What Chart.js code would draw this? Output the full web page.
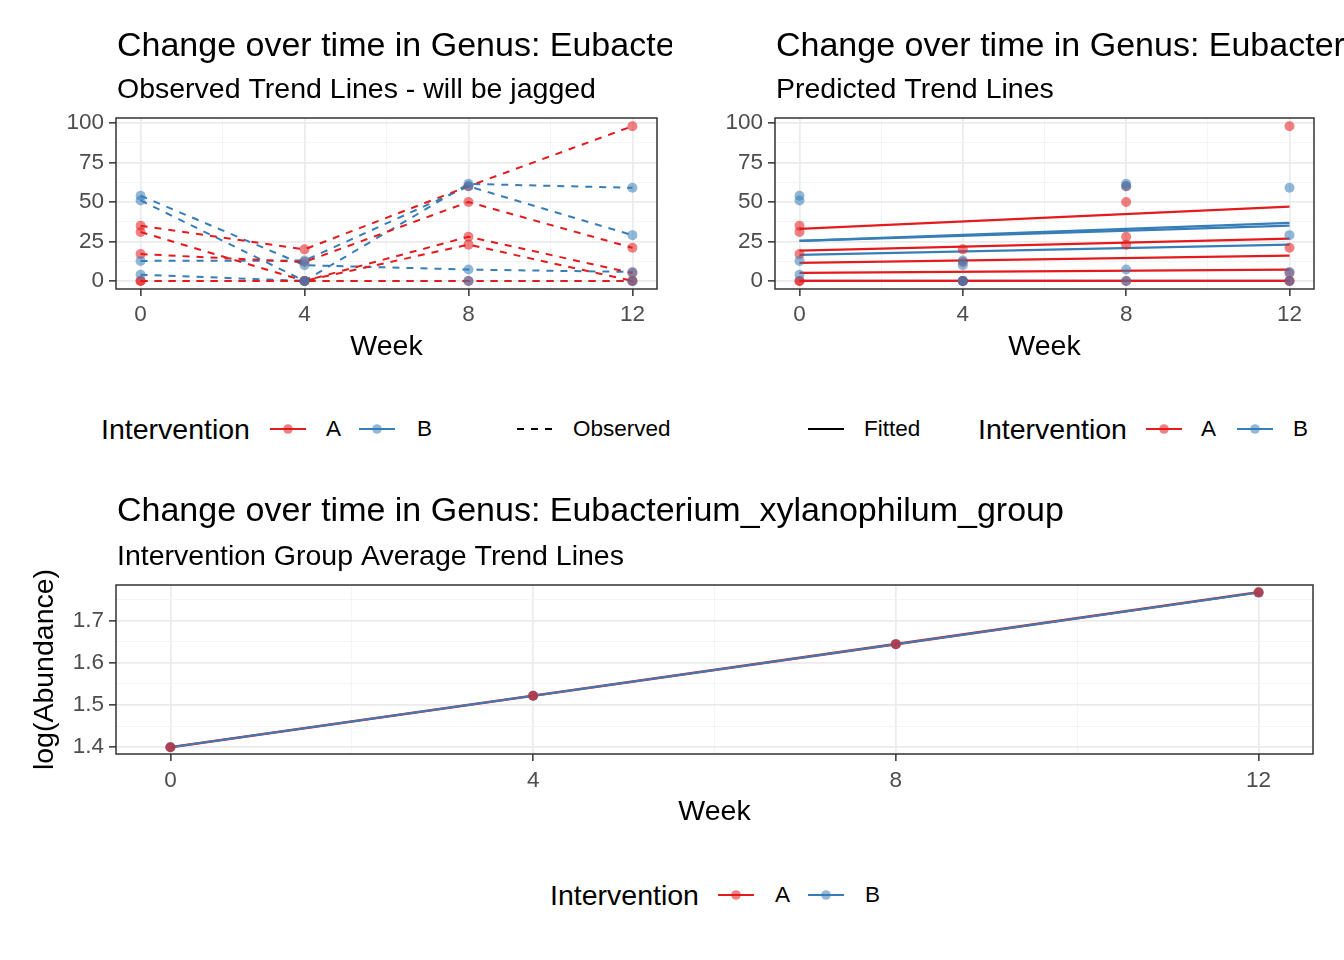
<!DOCTYPE html>
<html>
<head>
<meta charset="utf-8">
<title>Change over time in Genus: Eubacterium_xylanophilum_group</title>
<script src="https://cdn.jsdelivr.net/npm/chart.js@4.4.1/dist/chart.umd.min.js"></script>
<style>
  html, body { margin: 0; padding: 0; background: #fff; }
  #page { position: relative; width: 1344px; height: 960px; overflow: hidden; font-family: "Liberation Sans", Arial, sans-serif; }
  canvas { position: absolute; }
  .lg { position: absolute; white-space: nowrap; transform: translateY(-50%); color: #000; line-height: 1; }
  .big { font-size: 28.5px; }
  .small { font-size: 22.5px; }
  .key { position: absolute; transform: translateY(-50%); }
</style>
</head>
<body>
<div id="page">
  <canvas id="observed" width="672" height="365" style="left:0;top:0"></canvas>
  <canvas id="predicted" width="672" height="365" style="left:672px;top:0"></canvas>
  <canvas id="average" width="1344" height="361" style="left:0;top:470px"></canvas>
  <div id="legends"></div>
</div>
<script>
// x positions (weeks) and tick labels
const weeks = [0, 4, 8, 12];
const weekTicks = [0, 4, 8, 12];
const abundanceTicks = [0, 25, 50, 75, 100];
const logTicks = [1.4, 1.5, 1.6, 1.7];

// observed abundance per subject at weeks 0, 4, 8, 12
const observedA = [
    [35, 20, 60, 98],
    [31, 0, 28, 5],
    [17, 12, 50, 21],
    [0, 0, 23, 0],
    [0, 0, 0, 0]
];
const observedB = [
    [54, 10, 7.2, 5.7],
    [51, 0, 61.5, 59],
    [12.7, 12.9, 60, 29],
    [4, 0, 0, 0]
];

// fitted lines per subject: value at week 0 and at week 12
const fittedStartA = [33.0, 19.2, 11.4, 5.1, 0];
const fittedEndA = [47.1, 26.8, 16.1, 7.2, 0];
const fittedStartB = [25.4, 25.4, 16.5, 0];
const fittedEndB = [36.8, 35.1, 23.0, 0];

// group average log(abundance)
const averageA = [1.400, 1.522, 1.644, 1.767];
const averageB = [1.400, 1.522, 1.644, 1.766];

const RED = '#E41A1C';
const BLUE = '#377EB8';
const RED_PT = 'rgba(228, 26, 28, 0.55)';
const BLUE_PT = 'rgba(55, 126, 184, 0.55)';
const FONT = '"Liberation Sans", Arial, sans-serif';

const panelDecor = {
    id: 'panelDecor',
    afterDraw(chart, args, opts) {
        const ctx = chart.ctx;
        const a = chart.chartArea;
        ctx.save();
        ctx.strokeStyle = '#333333';
        ctx.lineWidth = 1.5;
        ctx.strokeRect(a.left, a.top, a.right - a.left, a.bottom - a.top);
        ctx.fillStyle = '#000';
        ctx.textBaseline = 'middle';
        ctx.font = '34px ' + FONT;
        ctx.fillText(opts.title, a.left + 1, opts.titleY);
        ctx.font = '28.5px ' + FONT;
        ctx.fillText(opts.subtitle, a.left + 1, opts.subtitleY);
        ctx.restore();
    }
};

function makeScale(min, max, majors, size, title, titlePad, tickPad) {
    const step = majors[1] - majors[0];
    const minors = [];
    for (let i = -1; i < majors.length; i++) {
        const v = Math.round((majors[0] + (i + 0.5) * step) * 1e6) / 1e6;
        if (v >= min && v <= max) minors.push(v);
    }
    return {
        type: 'linear',
        min: min,
        max: max,
        afterBuildTicks: function(scale) {
            const all = majors.map(v => ({ value: v, minor: false }))
                .concat(minors.map(v => ({ value: v, minor: true })));
            all.sort((p, q) => p.value - q.value);
            scale.ticks = all;
        },
        afterFit: function(scale) {
            if (scale.isHorizontal()) scale.height = size;
            else scale.width = size;
        },
        ticks: {
            autoSkip: false,
            maxRotation: 0,
            padding: tickPad,
            color: '#4D4D4D',
            font: { family: FONT, size: 22.5 },
            callback: function(value, index, ticks) {
                return ticks[index].minor ? '' : String(value);
            }
        },
        grid: {
            drawTicks: true,
            tickLength: 7,
            tickWidth: 1.5,
            color: ctx => (ctx.tick && ctx.tick.minor) ? '#F3F3F3' : '#EBEBEB',
            lineWidth: ctx => (ctx.tick && ctx.tick.minor) ? 0.9 : 1.7,
            tickColor: ctx => (ctx.tick && ctx.tick.minor) ? 'rgba(0,0,0,0)' : '#333333'
        },
        border: { display: false },
        title: {
            display: !!title,
            text: title || '',
            color: '#000',
            font: { family: FONT, size: 28.5 },
            padding: titlePad
        }
    };
}

function baseOptions(xScale, yScale, padRight, decor) {
    return {
        responsive: false,
        animation: false,
        layout: { padding: { left: 0, right: padRight, top: decor.top, bottom: 0 } },
        scales: { x: xScale, y: yScale },
        plugins: {
            legend: { display: false },
            tooltip: { enabled: false },
            panelDecor: decor
        }
    };
}

function toPoints(xs, ys) {
    return xs.map((x, i) => ({ x: x, y: ys[i] }));
}

function pointSet(rows, color) {
    return rows.map(r => ({
        data: toPoints(weeks, r),
        showLine: false,
        pointRadius: 5,
        pointBorderWidth: 0,
        pointBackgroundColor: color
    }));
}

function dashedSet(rows, color) {
    return rows.map(r => ({
        data: toPoints(weeks, r),
        showLine: true,
        borderColor: color,
        borderWidth: 2,
        borderDash: [7, 7],
        pointRadius: 0
    }));
}

function fittedSet(starts, ends, color) {
    return starts.map((s, i) => ({
        data: toPoints([weeks[0], weeks[weeks.length - 1]], [s, ends[i]]),
        showLine: true,
        borderColor: color,
        borderWidth: 2.2,
        pointRadius: 0
    }));
}

// Chart.js draws the first dataset last (on top):
// B points, A points, A lines, B lines

// ---- top left: observed trend lines
const obsSets = [].concat(
    pointSet(observedB, BLUE_PT),
    pointSet(observedA, RED_PT),
    dashedSet(observedA, RED),
    dashedSet(observedB, BLUE)
);

new Chart(document.getElementById('observed'), {
    type: 'scatter',
    data: { datasets: obsSets },
    options: baseOptions(
        makeScale(-0.6, 12.6, weekTicks, 76, 'Week', { top: 2, bottom: 1 }, 5.5),
        makeScale(-5.1, 103.2, abundanceTicks, 116, null, 0, 5),
        15,
        { top: 118, title: 'Change over time in Genus: Eubacterium_xylanophilum_group',
          subtitle: 'Observed Trend Lines - will be jagged', titleY: 47, subtitleY: 90.5 }
    ),
    plugins: [panelDecor]
});

// ---- top right: predicted trend lines
const predSets = [].concat(
    pointSet(observedB, BLUE_PT),
    pointSet(observedA, RED_PT),
    fittedSet(fittedStartA, fittedEndA, RED),
    fittedSet(fittedStartB, fittedEndB, BLUE)
);

new Chart(document.getElementById('predicted'), {
    type: 'scatter',
    data: { datasets: predSets },
    options: baseOptions(
        makeScale(-0.6, 12.6, weekTicks, 76, 'Week', { top: 2, bottom: 1 }, 5.5),
        makeScale(-5.1, 103.2, abundanceTicks, 103, null, 0, 5),
        30,
        { top: 118, title: 'Change over time in Genus: Eubacterium_xylanophilum_group',
          subtitle: 'Predicted Trend Lines', titleY: 47, subtitleY: 90.5 }
    ),
    plugins: [panelDecor]
});

// ---- bottom: group averages
new Chart(document.getElementById('average'), {
    type: 'scatter',
    data: {
        datasets: [
            { data: toPoints(weeks, averageA), showLine: false, pointRadius: 5, pointBorderWidth: 0,
              pointBackgroundColor: 'rgba(228, 26, 28, 0.65)' },
            { data: toPoints(weeks, averageB), showLine: false, pointRadius: 5, pointBorderWidth: 0,
              pointBackgroundColor: 'rgba(55, 126, 184, 0.9)' },
            { data: toPoints(weeks, averageB), showLine: true, borderColor: BLUE, borderWidth: 2, pointRadius: 0 },
            { data: toPoints(weeks, averageA), showLine: true, borderColor: RED, borderWidth: 2.6, pointRadius: 0 }
        ]
    },
    options: baseOptions(
        makeScale(-0.6, 12.6, weekTicks, 77, 'Week', { top: 2, bottom: 2 }, 6.5),
        makeScale(1.384, 1.784, logTicks, 116, 'log(Abundance)', { top: 28, bottom: 0 }, 5),
        31,
        { top: 115, title: 'Change over time in Genus: Eubacterium_xylanophilum_group',
          subtitle: 'Intervention Group Average Trend Lines', titleY: 42, subtitleY: 87 }
    ),
    plugins: [panelDecor]
});

// ---- legends (html)
function keySvg(color, dashed, dotColor) {
    let s = '<svg width="38" height="20" xmlns="http://www.w3.org/2000/svg">';
    s += '<line x1="1" y1="10" x2="37" y2="10" stroke="' + color + '" stroke-width="2"' +
        (dashed ? ' stroke-dasharray="7,7"' : '') + '/>';
    if (dotColor) s += '<circle cx="19" cy="10" r="4.8" fill="' + dotColor + '"/>';
    return s + '</svg>';
}

const legendItems = [
    // top left
    { y: 429, x: 101, text: 'Intervention', cls: 'big' },
    { y: 429, x: 269, key: keySvg(RED, false, RED_PT) },
    { y: 429, x: 326, text: 'A', cls: 'small' },
    { y: 429, x: 358, key: keySvg(BLUE, false, BLUE_PT) },
    { y: 429, x: 417, text: 'B', cls: 'small' },
    { y: 429, x: 516, key: keySvg('#000', true, null) },
    { y: 429, x: 573, text: 'Observed', cls: 'small' },
    // top right
    { y: 429, x: 807, key: keySvg('#000', false, null) },
    { y: 429, x: 864, text: 'Fitted', cls: 'small' },
    { y: 429, x: 978, text: 'Intervention', cls: 'big' },
    { y: 429, x: 1145, key: keySvg(RED, false, RED_PT) },
    { y: 429, x: 1201, text: 'A', cls: 'small' },
    { y: 429, x: 1236, key: keySvg(BLUE, false, BLUE_PT) },
    { y: 429, x: 1293, text: 'B', cls: 'small' },
    // bottom
    { y: 895, x: 550, text: 'Intervention', cls: 'big' },
    { y: 895, x: 717, key: keySvg(RED, false, RED_PT) },
    { y: 895, x: 775, text: 'A', cls: 'small' },
    { y: 895, x: 807, key: keySvg(BLUE, false, BLUE_PT) },
    { y: 895, x: 865, text: 'B', cls: 'small' }
];

const lgDiv = document.getElementById('legends');
legendItems.forEach(it => {
    const el = document.createElement('div');
    if (it.key) {
        el.className = 'key';
        el.innerHTML = it.key;
        el.style.height = '20px';
    } else {
        el.className = 'lg ' + it.cls;
        el.textContent = it.text;
    }
    el.style.left = it.x + 'px';
    el.style.top = it.y + 'px';
    lgDiv.appendChild(el);
});
</script>
</body>
</html>
